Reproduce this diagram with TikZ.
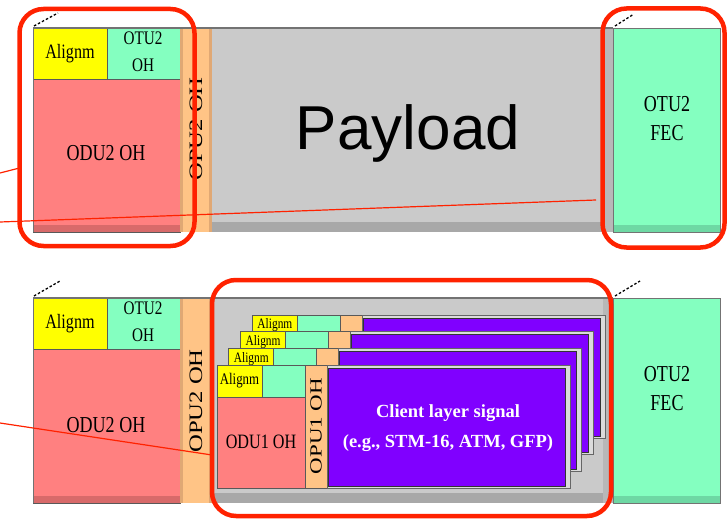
\documentclass[tikz,border=0pt]{standalone}
\usepackage{fontspec}
\setmainfont{Liberation Serif}
\newfontfamily\paysans{Liberation Sans}

\definecolor{alignyel}{HTML}{FFFF00}
\definecolor{otuaqua}{HTML}{84FFC0}
\definecolor{otuaquadk}{HTML}{6ED8A4}
\definecolor{odured}{HTML}{FF8080}
\definecolor{oduredk}{HTML}{D86A6A}
\definecolor{opuorange}{HTML}{FFC486}
\definecolor{opuedge}{HTML}{E0A874}
\definecolor{paygray}{HTML}{CACACA}
\definecolor{paygraydk}{HTML}{A8A8A8}
\definecolor{clientviolet}{HTML}{8000FF}
\definecolor{ringred}{HTML}{FF2200}

% field labels are set slightly tall and narrow
\newcommand\tall[1]{\scalebox{0.95}[1.2]{#1}}

\tikzset{
  cell/.style={draw=black!65, line width=0.7pt},
  lbl/.style={inner sep=0pt, align=center},
  ring/.style={draw=ringred, line width=4.5pt, rounded corners=24pt},
  link/.style={draw=ringred, line width=1.2pt},
  dots/.style={draw=black, line width=1.3pt, dash pattern=on 2.5pt off 2pt},
}

% one ODU2/OTU2 frame; #1 = top edge, #2 = bottom edge
\newcommand\otutwoframe[2]{%
  \fill[odured] (33,#1+51) rectangle (180,#2);
  \fill[oduredk] (33,#2-7) rectangle (180,#2);
  \draw[cell] (33,#1+51) rectangle (180,#2);
  \draw[cell, fill=alignyel] (33,#1) rectangle (107,#1+51);
  \draw[cell, fill=otuaqua] (107,#1) rectangle (180,#1+51);
  \fill[opuorange] (180,#1) rectangle (212,#2);
  \fill[opuedge] (180,#1) rectangle (183,#2);
  \fill[opuedge] (209,#1) rectangle (212,#2);
  \fill[paygray] (212,#1) rectangle (613,#2);
  \fill[paygraydk] (212,#2-10) rectangle (613,#2);
  \fill[black!28] (603,#1) rectangle (613,#2);
  \fill[otuaqua] (613,#1) rectangle (720,#2);
  \fill[otuaquadk] (613,#2-7) rectangle (720,#2);
  \draw[black!55, line width=0.8pt] (613,#1) rectangle (720,#2);
  \draw[black!55, line width=2pt] (33,#1) -- (613,#1);
  \draw[black!55, line width=0.8pt] (33,#1) -- (33,#2);
}

% one ODU1 frame inside the OPU2 payload; #1 = name, #2 = x, #3 = y of its top-left corner
\newcommand\oduonelayer[3]{%
  \begin{scope}[shift={(#2,#3)}]
    \draw[cell, fill=odured] (0,32) rectangle (88,123);
    \draw[cell, fill=alignyel] (0,0) rectangle (45,32);
    \draw[cell, fill=otuaqua] (45,0) rectangle (88,32);
    \draw[cell, fill=opuorange] (88,0) rectangle (110,123);
    \draw[draw=black!60, fill=black!14, line width=0.8pt] (110,0) rectangle (353,123);
    \draw[draw=black!80, fill=clientviolet, line width=0.8pt] (111,3) rectangle (348,121);
    \node[lbl, anchor=base, font=\fontsize{12}{12}\selectfont] (#1) at (22.5,14) {\tall{Alignm}};
  \end{scope}%
}

\begin{document}
\begin{tikzpicture}[x=1pt, y=-1pt]
  \useasboundingbox (0,0) rectangle (727,521);

  % ---------------- upper frame: OTU2 with plain payload ----------------
  \otutwoframe{28}{232}
  \node[lbl, font=\fontsize{17}{17}\selectfont] (alignA) at (70,54) {\tall{Alignm}};
  \node[lbl, font=\fontsize{16}{27}\selectfont] (otuohA) at (143,52) {\tall{OTU2}\\\tall{OH}};
  \node[lbl, font=\fontsize{19}{19}\selectfont] (oduohA) at (106,153) {\tall{ODU2 OH}};
  \node[lbl, rotate=90, font=\fontsize{19}{19}\selectfont] (opuohA) at (196,129) {\scalebox{1.3}[1]{OPU2 OH}};
  \node[lbl, anchor=base, font=\paysans\fontsize{62}{62}\selectfont] (payload) at (408,150) {Payload};
  \node[lbl, font=\fontsize{19}{29}\selectfont] (fecA) at (667,119) {\tall{OTU2}\\\tall{FEC}};
  \draw[dots] (34,26) -- (58,13);
  \draw[dots] (615,26) -- (634,14);

  % ---------------- lower frame: OTU2 carrying ODU1 tributaries ----------------
  \otutwoframe{298}{503}
  \node[lbl, font=\fontsize{17}{17}\selectfont] (alignB) at (70,324) {\tall{Alignm}};
  \node[lbl, font=\fontsize{16}{27}\selectfont] (otuohB) at (143,322) {\tall{OTU2}\\\tall{OH}};
  \node[lbl, font=\fontsize{19}{19}\selectfont] (oduohB) at (106,425) {\tall{ODU2 OH}};
  \node[lbl, rotate=90, font=\fontsize{19}{19}\selectfont] (opuohB) at (196,401) {\scalebox{1.3}[1]{OPU2 OH}};
  \node[lbl, font=\fontsize{19}{29}\selectfont] (fecB) at (667,389) {\tall{OTU2}\\\tall{FEC}};
  \draw[dots] (34,296) -- (60,281);
  \draw[dots] (615,296) -- (640,281);

  % stacked ODU1 tributaries, back to front
  \oduonelayer{alignL4}{252.4}{314.9}
  \oduonelayer{alignL3}{240.6}{331.6}
  \oduonelayer{alignL2}{228.8}{348.3}
  \begin{scope}[shift={(217,365)}]
    \draw[cell, fill=odured] (0,32) rectangle (88,123);
    \draw[cell, fill=alignyel] (0,0) rectangle (45,32);
    \draw[cell, fill=otuaqua] (45,0) rectangle (88,32);
    \draw[cell, fill=opuorange] (88,0) rectangle (110,123);
    \draw[draw=black!60, fill=black!14, line width=0.8pt] (110,0) rectangle (353,123);
    \draw[draw=black!80, fill=clientviolet, line width=0.8pt] (111,3) rectangle (348,121);
    \node[lbl, font=\fontsize{13.5}{13.5}\selectfont] (alignL1) at (22.5,16) {\tall{Alignm}};
    \node[lbl, font=\fontsize{17}{17}\selectfont] (oduone) at (44,77) {\tall{ODU1 OH}};
    \node[lbl, rotate=90, font=\fontsize{17}{17}\selectfont] (opuone) at (99,61) {\scalebox{1.35}[1]{OPU1 OH}};
    \node[lbl, text=white, font=\bfseries\fontsize{18.5}{30}\selectfont] (client) at (231,63)
      {Client layer signal\\(e.g., STM-16, ATM, GFP)};
  \end{scope}

  % ---------------- highlight rings and leader lines ----------------
  \node[ring, minimum width=175pt, minimum height=237pt, inner sep=0pt] (ringOH) at (107,127.5) {};
  \node[ring, minimum width=122pt, minimum height=239pt, inner sep=0pt] (ringFEC) at (663.5,128) {};
  \node[ring, minimum width=399pt, minimum height=236pt, inner sep=0pt] (ringTrib) at (411.5,398) {};

  \coordinate (srcA) at (0,173);
  \coordinate (srcB) at (0,222);
  \coordinate (srcC) at (0,423);
  \coordinate (hitA) at (19.5,168);
  \coordinate (hitB) at (596,200);
  \coordinate (hitC) at (212,455);
  \draw[link] (srcA) -- (hitA);
  \draw[link] (srcB) -- (hitB);
  \draw[link] (srcC) -- (hitC);
\end{tikzpicture}
\end{document}
